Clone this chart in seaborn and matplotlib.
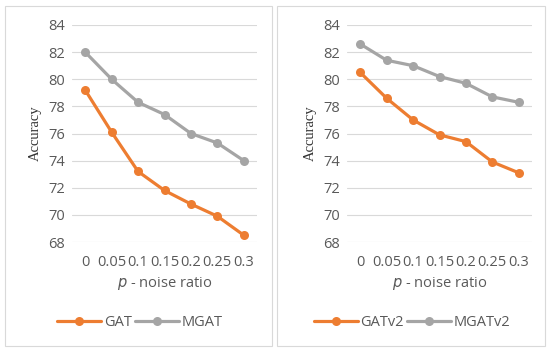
import pandas as pd
import matplotlib.pyplot as plt
import seaborn as sns
from matplotlib.patches import Rectangle

noise = ["0", "0.05", "0.1", "0.15", "0.2", "0.25", "0.3"]
gat = [79.2, 76.1, 73.2, 71.8, 70.8, 69.9, 68.5]
mgat = [82.0, 80.0, 78.3, 77.4, 76.0, 75.3, 74.0]
gatv2 = [80.5, 78.6, 77.0, 75.9, 75.4, 73.9, 73.1]
mgatv2 = [82.6, 81.4, 81.0, 80.2, 79.7, 78.7, 78.3]
yticks = [68, 70, 72, 74, 76, 78, 80, 82, 84]

sns.set_style("white")
plt.rcParams['font.family'] = ['Open Sans', 'DejaVu Sans']
plt.rcParams['mathtext.fontset'] = 'dejavusans'

ORANGE = "#ED7D31"
GRAY = "#A5A5A5"
TXT = "#595959"

W, H = 550, 352
fig = plt.figure(figsize=(W / 100, H / 100), dpi=100)

def px_rect(x0, y0, x1, y1):
    return [x0 / W, 1 - y1 / H, (x1 - x0) / W, (y1 - y0) / H]

# cadres des deux panneaux
for x0, x1 in [(5, 272), (277, 545)]:
    r = px_rect(x0, 6, x1, 346)
    fig.patches.append(Rectangle((r[0], r[1]), r[2], r[3], transform=fig.transFigure,
                                 fill=False, edgecolor="#D9D9D9", lw=0.8))

panels = [
    (px_rect(72, 25, 257, 242), gat, mgat, "GAT", "MGAT", 140),
    (px_rect(347, 25, 532, 242), gatv2, mgatv2, "GATv2", "MGATv2", 412),
]

for rect, a, b, la, lb, cx in panels:
    ax = fig.add_axes(rect)
    df = pd.DataFrame({
        "noise": noise * 2,
        "acc": a + b,
        "model": [la] * len(noise) + [lb] * len(noise),
    })
    sns.lineplot(data=df, x="noise", y="acc", hue="model", palette=[ORANGE, GRAY],
                 marker="o", markersize=6.5, markeredgewidth=0, linewidth=2.3,
                 sort=False, ax=ax, legend=True)
    ax.set_xlim(-0.5, 6.5)
    ax.set_ylim(68, 84)
    ax.set_yticks(yticks)
    ax.yaxis.grid(True, color="#D9D9D9", lw=0.8)
    ax.set_axisbelow(True)
    for s in ax.spines.values():
        s.set_visible(False)
    ax.tick_params(axis="both", length=0, labelsize=10.5, labelcolor=TXT, pad=5)
    ax.tick_params(axis="x", pad=9)
    ax.set_ylabel("Accuracy", family=["Liberation Serif", "DejaVu Serif"], fontsize=10.5,
                  color="#333333", labelpad=5)
    ax.set_xlabel(r"$p$ - noise ratio", fontsize=10.5, color=TXT, labelpad=4)
    ax.legend(loc="center", bbox_to_anchor=(cx / W, 1 - 323 / H),
              bbox_transform=fig.transFigure, ncol=2, frameon=False,
              handlelength=3.0, columnspacing=0.2, handletextpad=0.2,
              fontsize=10.5, labelcolor=TXT)

fig.savefig("out.png", dpi=100)
